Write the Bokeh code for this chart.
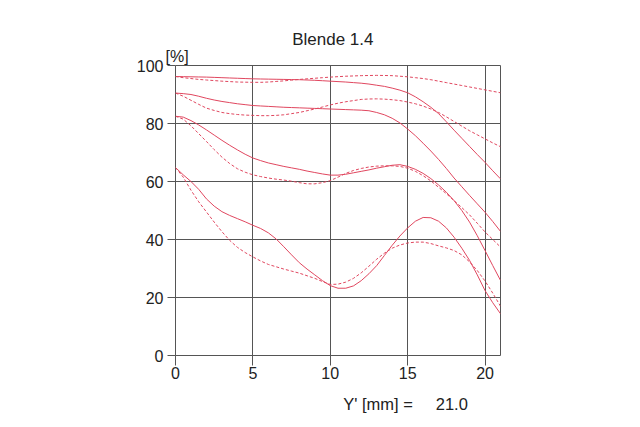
from bokeh.plotting import figure
from bokeh.models import Range1d, Title
from bokeh.embed import file_html
from bokeh.resources import INLINE

# ---- data, x in steps of 0.5 mm ----
x_mm = [0, 0.5, 1, 1.5, 2, 2.5, 3, 3.5, 4, 4.5, 5, 5.5, 6, 6.5, 7, 7.5, 8, 8.5, 9, 9.5, 10,
        10.5, 11, 11.5, 12, 12.5, 13, 13.5, 14, 14.5, 15, 15.5, 16, 16.5, 17, 17.5, 18, 18.5,
        19, 19.5, 20, 20.5, 21]

s1 = [96.2, 96.15, 96.1, 96.05, 96.0, 95.9, 95.8, 95.7, 95.6, 95.5, 95.4,
      95.35, 95.3, 95.25, 95.2, 95.15, 95.1, 95.0, 94.9, 94.75, 94.6,
      94.45, 94.3, 94.1, 93.9, 93.6, 93.2, 92.8, 92.2, 91.5, 90.6,
      89.2, 87.5, 85.6, 83.4, 80.6, 77.7, 74.9, 72.1, 69.3, 66.6,
      63.7, 60.9]
d1 = [96.2, 95.8, 95.5, 95.2, 95.0, 94.8, 94.6, 94.45, 94.3, 94.25, 94.2,
      94.2, 94.3, 94.5, 94.7, 94.95, 95.2, 95.4, 95.6, 95.8, 96.0,
      96.15, 96.3, 96.4, 96.5, 96.55, 96.6, 96.55, 96.5, 96.3, 96.1,
      95.8, 95.5, 95.1, 94.6, 94.1, 93.6, 93.1, 92.6, 92.1, 91.6,
      91.1, 90.6]
s2 = [90.5, 90.3, 90.0, 89.4, 88.7, 88.1, 87.6, 87.2, 86.8, 86.5, 86.2,
      86.05, 85.9, 85.75, 85.6, 85.5, 85.4, 85.3, 85.2, 85.1, 85.0,
      84.9, 84.8, 84.7, 84.6, 84.4, 83.8, 83.0, 81.8, 80.2, 78.1,
      75.8, 73.2, 70.5, 67.6, 64.5, 61.2, 58.2, 55.2, 52.3, 49.4,
      46.2, 42.8]
d2 = [90.5, 89.4, 88.0, 86.6, 85.3, 84.5, 83.8, 83.4, 83.1, 82.9, 82.8,
      82.7, 82.7, 82.8, 83.0, 83.4, 83.8, 84.4, 85.0, 85.7, 86.4,
      87.0, 87.5, 87.9, 88.3, 88.45, 88.5, 88.4, 88.2, 87.9, 87.4,
      86.8, 86.0, 85.0, 83.8, 82.3, 80.7, 79.1, 77.5, 76.1, 74.7,
      73.3, 72.0]
s3 = [82.5, 82.2, 81.0, 79.5, 77.8, 76.0, 74.2, 72.5, 70.9, 69.4, 68.1,
      67.2, 66.4, 65.8, 65.2, 64.7, 64.2, 63.6, 63.1, 62.6, 62.2,
      62.2, 62.5, 63.0, 63.5, 64.0, 64.6, 65.1, 65.6, 65.8, 65.2,
      64.2, 62.8, 61.0, 58.8, 56.3, 53.4, 50.0, 46.0, 41.3, 36.2,
      31.0, 25.9]
d3 = [82.5, 81.5, 79.2, 76.5, 73.8, 71.0, 68.4, 66.2, 64.4, 63.2, 62.3,
      61.7, 61.2, 60.8, 60.5, 60.1, 59.6, 59.2, 59.2, 59.6, 60.3,
      61.5, 62.8, 63.8, 64.5, 65.0, 65.3, 65.4, 65.4, 65.2, 64.6,
      63.5, 62.0, 60.2, 58.0, 55.8, 53.4, 51.0, 48.5, 45.6, 42.6,
      40.0, 37.4]
s4 = [64.8, 62.3, 60.0, 57.3, 54.0, 51.5, 49.6, 48.3, 47.2, 46.1, 44.9,
      43.8, 42.3, 40.2, 37.5, 34.7, 32.0, 29.8, 27.8, 25.8, 24.1,
      23.2, 23.2, 24.0, 25.8, 28.2, 31.0, 34.5, 38.0, 41.2, 44.0,
      46.3, 47.6, 47.5, 46.3, 44.0, 40.8, 37.0, 32.8, 27.8, 22.4,
      18.2, 14.4]
d4 = [64.8, 61.5, 57.0, 53.0, 49.5, 46.0, 42.7, 39.7, 37.3, 35.5, 34.0,
      32.6, 31.4, 30.6, 29.8, 29.1, 28.4, 27.5, 26.6, 25.5, 24.5,
      24.6, 25.3, 26.6, 28.5, 30.8, 33.2, 35.3, 37.0, 38.1, 38.8,
      39.1, 39.1, 38.6, 37.8, 37.1, 36.2, 34.7, 32.3, 29.3, 25.7,
      21.5, 17.0]

x_ticks = [0, 5, 10, 15, 20]
y_ticks = [0, 20, 40, 60, 80, 100]
title_text = "Blende 1.4"
unit_text = "[%]"
xlabel_text = "Y' [mm] =\u00a0\u00a0\u00a0\u00a0\u00a021.0"

RED = "#e0475f"
GRID = "#555555"
FONT = "Liberation Sans"
TXT = "#222222"

p = figure(frame_width=325, frame_height=290,
           min_border_left=175, min_border_right=140,
           min_border_top=65, min_border_bottom=72,
           x_range=Range1d(0, 21), y_range=Range1d(0, 100),
           output_backend="svg", toolbar_location=None)
p.background_fill_color = "white"
p.border_fill_color = "white"
p.outline_line_color = GRID
p.outline_line_width = 1

for ax, ticks, tout in ((p.xaxis, x_ticks, 10), (p.yaxis, y_ticks, 8)):
    ax.ticker = ticks
    ax.axis_line_color = None
    ax.major_tick_line_color = GRID
    ax.major_tick_in = 0
    ax.major_tick_out = tout
    ax.minor_tick_line_color = None
    ax.major_label_text_font = FONT
    ax.major_label_text_font_size = "16px"
    ax.major_label_text_color = TXT
p.xaxis.major_label_standoff = 1
p.yaxis.major_label_standoff = 4

for g in (p.xgrid, p.ygrid):
    g.grid_line_color = GRID
    g.grid_line_width = 1
    g.grid_line_alpha = 1.0

for ys, dash in ((s1, "solid"), (d1, "3 2"), (s2, "solid"), (d2, "3 2"),
                 (s3, "solid"), (d3, "3 2"), (s4, "solid"), (d4, "3 2")):
    p.line(x_mm, ys, line_color=RED, line_width=1, line_dash=dash)

t_unit = Title(text=unit_text, align="left", offset=-10, standoff=2,
               text_font=FONT, text_font_size="16px", text_font_style="normal",
               text_color=TXT)
t_main = Title(text=title_text, align="left", offset=116.7, standoff=-8,
               text_font=FONT, text_font_size="17px", text_font_style="normal",
               text_color=TXT)
t_x = Title(text=xlabel_text, align="left", offset=167.7, standoff=22,
            text_font=FONT, text_font_size="16.5px", text_font_style="normal",
            text_color=TXT)
p.add_layout(t_unit, "above")
p.add_layout(t_main, "above")
p.add_layout(t_x, "below")

open("out.html", "w").write(file_html(p, INLINE))
